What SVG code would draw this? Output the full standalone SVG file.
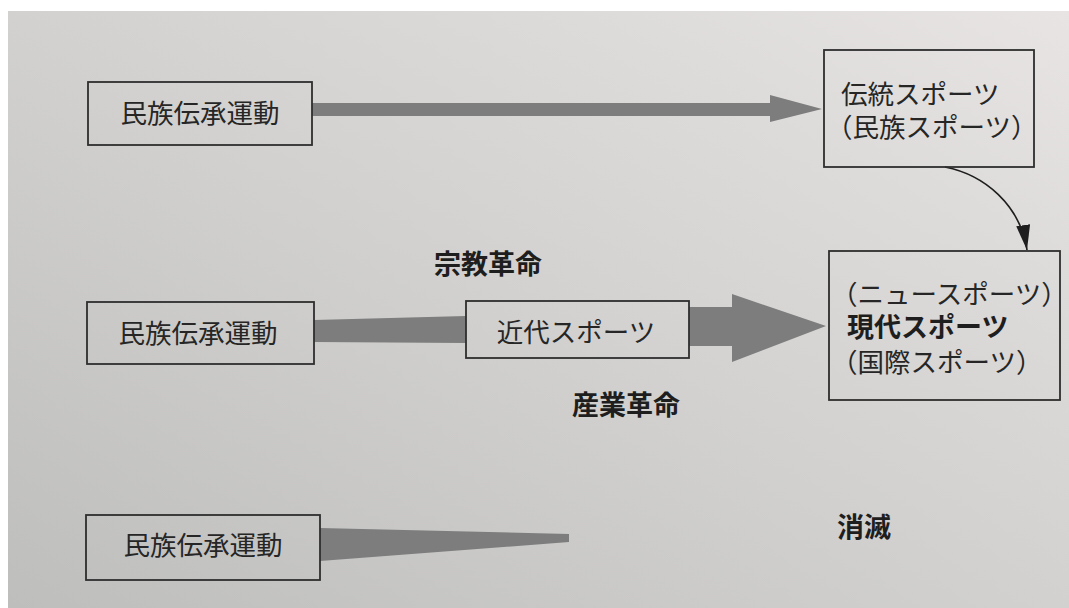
<svg xmlns="http://www.w3.org/2000/svg" width="1069" height="608" viewBox="0 0 1069 608">
  <defs>
    <linearGradient id="paper" x1="1" y1="0" x2="0" y2="1">
      <stop offset="0" stop-color="#e7e4e3"/>
      <stop offset="0.45" stop-color="#d4d3d1"/>
      <stop offset="1" stop-color="#bebebd"/>
    </linearGradient>
    <marker id="head" markerUnits="userSpaceOnUse" markerWidth="26" markerHeight="16" refX="25" refY="7" orient="auto">
      <path d="M0,0 L25,7 L0,14 Z" fill="#1e1e1e"/>
    </marker>
    <style>
      .box { fill: none; stroke: #2e2e2e; stroke-width: 1.8; }
      .txt { font-family: "Liberation Sans", "Noto Sans CJK JP", sans-serif; font-size: 26.5px; fill: #262626; }
      .bold { font-family: "Liberation Sans", "Noto Sans CJK JP", sans-serif; font-size: 27px; font-weight: bold; fill: #1e1e1e; }
      .band { fill: #7d7d7d; }
    </style>
  </defs>
  <rect x="0" y="0" width="1069" height="608" fill="#ffffff"/>
  <rect x="8" y="11" width="1061" height="597" fill="url(#paper)"/>

  <g id="connectors">
    <path class="band" d="M312,103 L770,103 L770,95 L822,109 L770,122 L770,116 L312,116 Z"/>
    <path class="band" d="M314,320 L466,316 L466,343 L314,342 Z"/>
    <path class="band" d="M689,307 L732,307 L732,294 L826,326 L732,362 L732,346 L689,346 Z"/>
    <path class="band" d="M320,528 L569,534 L569,542 L320,561 Z"/>
    <path d="M945,167 C985,175 1020,205 1027,250" fill="none" stroke="#1e1e1e" stroke-width="1.6" marker-end="url(#head)"/>
  </g>

  <g id="node-minzoku-1">
    <rect class="box" x="88" y="82" width="224" height="63"/>
    <text class="txt" x="200" y="123" text-anchor="middle">民族伝承運動</text>
  </g>
  <g id="node-dento">
    <rect class="box" x="824" y="50" width="210" height="117"/>
    <text class="txt"><tspan x="841" y="104">伝統スポーツ</tspan><tspan x="826" y="137">（民族スポーツ）</tspan></text>
  </g>
  <g id="node-minzoku-2">
    <rect class="box" x="87" y="302" width="227" height="62"/>
    <text class="txt" x="198" y="343" text-anchor="middle">民族伝承運動</text>
  </g>
  <g id="node-kindai">
    <rect class="box" x="466" y="301" width="223" height="57"/>
    <text class="txt" x="576" y="342" text-anchor="middle">近代スポーツ</text>
  </g>
  <g id="node-gendai">
    <rect class="box" x="829" y="251" width="231" height="149"/>
    <text class="txt"><tspan x="831" y="304">（ニュースポーツ）</tspan><tspan class="bold" x="847" y="337">現代スポーツ</tspan><tspan x="831" y="372">（国際スポーツ）</tspan></text>
  </g>
  <g id="node-minzoku-3">
    <rect class="box" x="86" y="515" width="234" height="65"/>
    <text class="txt" x="203" y="555" text-anchor="middle">民族伝承運動</text>
  </g>
  <g id="label-shukyo">
    <text class="bold" x="434" y="274">宗教革命</text>
  </g>
  <g id="label-sangyo">
    <text class="bold" x="572" y="415">産業革命</text>
  </g>
  <g id="label-shometsu">
    <text class="bold" x="837" y="537">消滅</text>
  </g>
</svg>
